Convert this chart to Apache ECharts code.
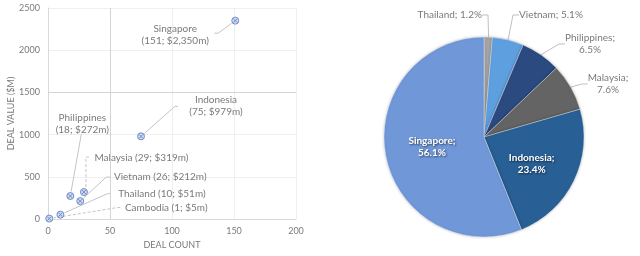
<!DOCTYPE html>
<html><head><meta charset="utf-8">
<script src="https://cdn.jsdelivr.net/npm/echarts@6/dist/echarts.min.js"></script>
<style>html,body{margin:0;padding:0;background:#fff}#c{width:640px;height:256px}</style>
</head><body><div id="c"></div>
<script>
// ---- data ----
const countries = ['Singapore', 'Indonesia', 'Philippines', 'Malaysia', 'Vietnam', 'Thailand', 'Cambodia'];
const dealCounts = [151, 75, 18, 29, 26, 10, 1];
const dealValues = [2350, 979, 272, 319, 212, 51, 5];
const xTicks = [0, 50, 100, 150, 200];
const yTicks = [0, 500, 1000, 1500, 2000, 2500];
// pie order (clockwise from 12 o'clock)
const pieOrder = ['Cambodia', 'Thailand', 'Vietnam', 'Philippines', 'Malaysia', 'Indonesia', 'Singapore'];

// ---- layout / style (not data) ----
const scatterLabelOffsets = { // label centre relative to point, px
  Singapore: [-60, 14.5], Indonesia: [75, -30.5], Philippines: [12, -72], Malaysia: [57.5, -34],
  Vietnam: [80, -24], Thailand: [101.5, -20.5], Cambodia: [117, -10.5]
};
const leaderPaths = { // polyline from label end toward the point, px relative to point
  Singapore: [[-21, 12.5], [-17, 12.5]],
  Indonesia: [[37, -30], [34, -30]],
  Philippines: [[11, -62]],
  Malaysia: [[5, -35], [2, -35], [2, -6]],
  Vietnam: [[30, -24], [26, -24]],
  Thailand: [[50, -21], [47, -21]],
  Cambodia: [[71, -11], [68, -11]]
};
const dashedLeaders = { Malaysia: true, Cambodia: true };
const twoLineScatter = { Singapore: true, Indonesia: true, Philippines: true };
const pieColors = {
  Cambodia: '#4472c4', Thailand: '#a5a5a5', Vietnam: '#5e9fdf', Philippines: '#2b4a80',
  Malaysia: '#646464', Indonesia: '#285f95', Singapore: '#7097d8'
};
const pieCenter = [484, 137];
const pieOutside = { // [x offset, y offset, align] from pie centre
  Thailand: [-2, -122, 'right'], Vietnam: [35, -122, 'left'],
  Philippines: [106, -93, 'center'], Malaysia: [124, -53, 'center']
};
const pieInsideShift = { Indonesia: [0, 4], Singapore: [0, 0] };
const pieTwoLine = { Philippines: true, Malaysia: true, Singapore: true, Indonesia: true };

const FONT = 'Lato';
const scatterData = countries.map((c, i) => ({ name: c, value: [dealCounts[i], dealValues[i]] }));
const valueByName = {};
countries.forEach((c, i) => valueByName[c] = dealValues[i]);

const pieData = pieOrder.map(n => {
  const d = { name: n, value: valueByName[n], itemStyle: { color: pieColors[n] } };
  if (n === 'Singapore' || n === 'Indonesia') {
    d.label = { position: 'inside', color: '#fff', fontWeight: 'bold', textShadowColor: 'rgba(0,0,0,0.6)', textShadowBlur: 2, textShadowOffsetX: 1, textShadowOffsetY: 1 };
    d.labelLine = { show: false };
  } else if (n === 'Cambodia') {
    d.label = { show: false };
    d.labelLine = { show: false };
  }
  return d;
});

const chart = echarts.init(document.getElementById('c'), null, { renderer: 'canvas' });
chart.setOption({
  animation: false,
  textStyle: { fontFamily: FONT },
  grid: { left: 48, right: 344, top: 8, bottom: 37 },
  xAxis: {
    type: 'value', min: xTicks[0], max: xTicks[xTicks.length - 1], interval: 50,
    name: 'DEAL COUNT', nameLocation: 'middle', nameGap: 18,
    nameTextStyle: { color: '#7a7a7a', fontSize: 9, fontFamily: FONT },
    axisLine: { show: true, lineStyle: { color: '#d9d9d9' } },
    axisTick: { show: false },
    axisLabel: { color: '#7a7a7a', fontSize: 9, margin: 8, fontFamily: FONT, formatter: v => String(v) },
    splitLine: { show: true, lineStyle: { color: '#efefef' } }
  },
  yAxis: {
    type: 'value', min: yTicks[0], max: yTicks[yTicks.length - 1], interval: 500,
    name: 'DEAL VALUE ($M)', nameLocation: 'middle', nameGap: 19, nameRotate: 90,
    nameTextStyle: { color: '#7a7a7a', fontSize: 9, fontFamily: FONT },
    axisLine: { show: true, lineStyle: { color: '#d9d9d9' } },
    axisTick: { show: false },
    axisLabel: { color: '#7a7a7a', fontSize: 9, margin: 8, fontFamily: FONT, formatter: v => String(v) },
    splitLine: { show: true, lineStyle: { color: '#efefef' } }
  },
  series: [
    {
      type: 'custom',
      data: scatterData,
      silent: true,
      z: 2,
      renderItem: (params, api) => {
        const name = countries[params.dataIndex];
        const p = api.coord([api.value(0), api.value(1)]);
        const pts = leaderPaths[name].map(o => [p[0] + o[0], p[1] + o[1]]);
        const last = pts[pts.length - 1];
        const dx = last[0] - p[0], dy = last[1] - p[1];
        const len = Math.sqrt(dx * dx + dy * dy) || 1;
        pts.push([p[0] + dx / len * 4.5, p[1] + dy / len * 4.5]);
        return {
          type: 'polyline', shape: { points: pts },
          style: { stroke: '#c4c4c4', lineWidth: 1, fill: null, lineDash: dashedLeaders[name] ? [3, 2] : null }
        };
      }
    },
    {
      type: 'scatter',
      data: scatterData,
      symbol: 'path://M0,5A5,5,0,1,1,10,5A5,5,0,1,1,0,5ZM2.2,2.2L7.8,7.8M7.8,2.2L2.2,7.8',
      symbolSize: 7,
      itemStyle: { color: '#d0dbef', borderColor: '#6f8cc8', borderWidth: 1, opacity: 1 },
      label: {
        show: true, position: 'inside', color: '#7a7a7a', fontSize: 10, fontFamily: FONT, lineHeight: 12,
        formatter: p => {
          const [x, y] = p.value;
          const v = '(' + x + '; $' + y.toLocaleString('en-US') + 'm)';
          return twoLineScatter[p.name] ? p.name + '\n' + v : p.name + ' ' + v;
        }
      },
      labelLine: { show: false },
      labelLayout: p => {
        const o = scatterLabelOffsets[countries[p.dataIndex]];
        return { dx: o[0], dy: o[1] };
      },
      markLine: {
        silent: true, symbol: 'none', label: { show: false },
        lineStyle: { color: '#d4d4d4', type: 'solid', width: 1 },
        data: [{ xAxis: 50 }, { yAxis: 1500 }]
      },
      z: 3
    },
    {
      type: 'pie',
      center: pieCenter, radius: 100,
      startAngle: 90, clockwise: true,
      percentPrecision: 1,
      data: pieData,
      itemStyle: { borderColor: 'rgba(255,255,255,0.6)', borderWidth: 0.6, shadowBlur: 3, shadowColor: 'rgba(0,0,0,0.25)' },
      label: {
        show: true, position: 'outside', color: '#7a7a7a', fontSize: 10, fontFamily: FONT, lineHeight: 12,
        overflow: 'none',
        formatter: p => p.name + ';' + (pieTwoLine[p.name] ? '\n' : ' ') + p.percent.toFixed(1) + '%'
      },
      labelLine: { show: true, length: 10, length2: 6, lineStyle: { color: '#bfbfbf', width: 1 } },
      labelLayout: p => {
        const n = pieOrder[p.dataIndex];
        const o = pieOutside[n];
        if (o) return { x: pieCenter[0] + o[0], y: pieCenter[1] + o[1], align: o[2], verticalAlign: 'middle' };
        const s = pieInsideShift[n];
        if (s) return { dx: s[0], dy: s[1] };
        return {};
      }
    }
  ]
});
</script>
</body></html>
